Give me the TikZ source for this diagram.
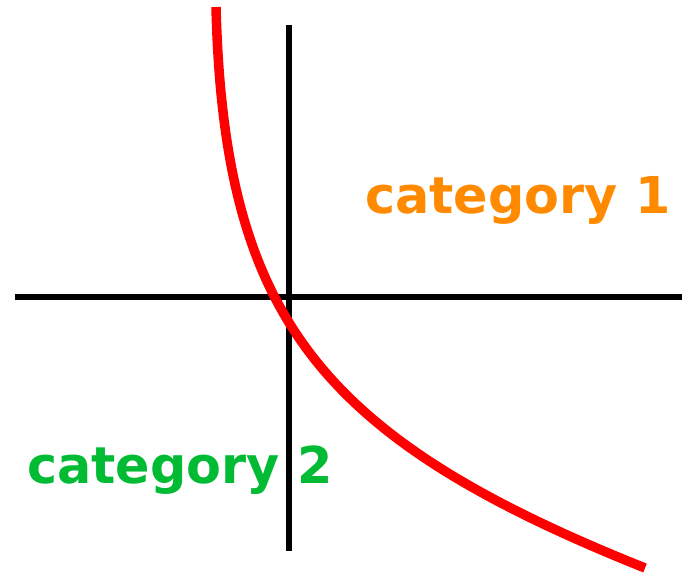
\documentclass[tikz,border=0pt]{standalone}
\usepackage{fontspec}
\setmainfont{DejaVu Sans}
\usepackage{xcolor}
\usepackage{tikz}
\usetikzlibrary{positioning}
\definecolor{myorange}{RGB}{255,138,0}
\definecolor{mygreen}{RGB}{0,187,51}
\definecolor{myred}{RGB}{255,0,0}
\tikzset{
  axis/.style={line width=6pt, color=black},
  boundary/.style={line width=9.5pt, color=myred},
  catlabel/.style={anchor=base west, inner sep=0pt,
    font=\fontsize{50.8}{60}\selectfont\bfseries}
}
\begin{document}
\begin{tikzpicture}[x=1pt, y=-1pt]
  \useasboundingbox (0,0) rectangle (682,575);

  % axes
  \coordinate (xl) at (15,297);
  \coordinate (xr) at (682,297);
  \coordinate (yt) at (289,25);
  \coordinate (yb) at (289,551);
  \draw[axis] (xl) -- (xr);
  \draw[axis] (yt) -- (yb);

  % decision boundary
  \coordinate (bt) at (216,7);
  \coordinate (bb) at (645,568);
  \draw[boundary] (bt) .. controls (224,318) and (320,438) .. (bb);

  % class labels
  \node[catlabel, text=myorange] (cat1) at (365,213) {category 1};
  \node[catlabel, text=mygreen]  (cat2) at (27,483)  {category 2};
\end{tikzpicture}
\end{document}
